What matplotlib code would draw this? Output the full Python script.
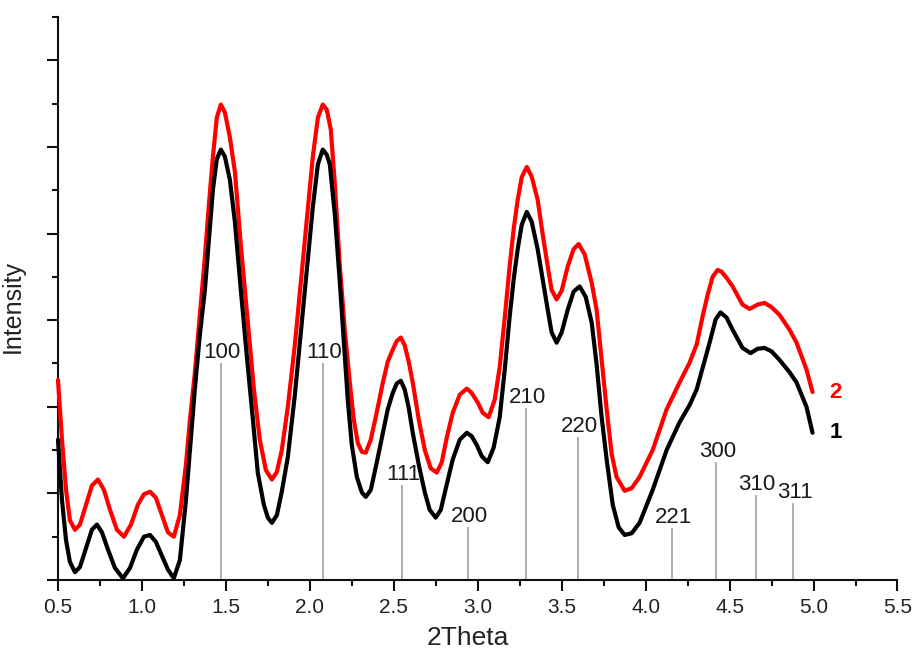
import matplotlib
matplotlib.use("Agg")
import matplotlib.pyplot as plt
from matplotlib.ticker import MultipleLocator, NullFormatter

plt.rcParams['font.family'] = ['Liberation Sans', 'DejaVu Sans']

# ---- data ----
x1 = [0.500,0.524,0.548,0.571,0.601,0.631,0.667,0.702,0.732,0.762,0.798,0.839,0.887,0.929,0.970,1.012,1.048,1.083,1.119,1.155,
      1.190,1.226,1.262,1.286,1.315,1.345,1.375,1.399,1.423,1.446,1.470,1.494,1.524,1.554,1.589,1.625,1.661,1.690,1.726,1.750,
      1.774,1.804,1.833,1.869,1.911,1.952,1.988,2.018,2.048,2.077,2.101,2.119,2.149,2.179,2.202,2.226,2.250,2.280,2.310,2.333,
      2.363,2.399,2.435,2.464,2.494,2.518,2.542,2.565,2.589,2.613,2.649,2.685,2.714,2.750,2.780,2.815,2.851,2.893,2.935,2.964,
      2.994,3.024,3.060,3.095,3.131,3.161,3.190,3.214,3.238,3.262,3.292,3.321,3.357,3.387,3.417,3.440,3.470,3.500,3.536,3.571,
      3.607,3.643,3.679,3.708,3.738,3.768,3.804,3.839,3.875,3.917,3.964,4.042,4.125,4.202,4.262,4.304,4.345,4.381,4.417,4.446,
      4.482,4.518,4.577,4.625,4.667,4.708,4.750,4.798,4.857,4.899,4.958,4.994]
y1 = [1.62,0.92,0.46,0.21,0.09,0.15,0.37,0.58,0.64,0.55,0.35,0.14,0.02,0.14,0.35,0.50,0.52,0.44,0.28,0.12,
      0.02,0.23,0.92,1.50,2.20,2.83,3.35,3.93,4.51,4.86,4.97,4.89,4.62,4.13,3.35,2.58,1.85,1.24,0.87,0.72,
      0.66,0.75,1.02,1.42,2.14,2.97,3.70,4.31,4.80,4.97,4.91,4.80,4.22,3.43,2.77,2.08,1.56,1.19,1.01,0.96,
      1.04,1.36,1.70,1.97,2.16,2.27,2.30,2.20,1.99,1.70,1.33,1.01,0.81,0.72,0.81,1.10,1.39,1.62,1.70,1.66,
      1.56,1.43,1.36,1.53,1.88,2.43,3.04,3.47,3.82,4.10,4.25,4.14,3.82,3.47,3.12,2.86,2.74,2.86,3.12,3.33,
      3.39,3.27,2.97,2.49,1.88,1.39,0.87,0.61,0.52,0.54,0.66,1.04,1.50,1.82,2.02,2.20,2.49,2.74,3.01,3.09,
      3.03,2.89,2.68,2.62,2.67,2.68,2.64,2.54,2.40,2.28,2.00,1.70]

x2 = [0.500,0.524,0.548,0.571,0.601,0.631,0.667,0.702,0.738,0.774,0.810,0.851,0.893,0.935,0.976,1.012,1.048,1.083,1.119,1.155,
      1.190,1.226,1.262,1.286,1.315,1.345,1.375,1.399,1.423,1.446,1.470,1.494,1.524,1.554,1.589,1.631,1.667,1.702,1.738,1.774,
      1.804,1.833,1.869,1.911,1.952,1.988,2.018,2.048,2.077,2.101,2.125,2.149,2.179,2.208,2.238,2.262,2.286,2.310,2.333,2.363,
      2.399,2.435,2.464,2.494,2.518,2.542,2.565,2.589,2.613,2.649,2.685,2.720,2.756,2.786,2.815,2.851,2.893,2.935,2.964,3.000,
      3.030,3.065,3.101,3.131,3.161,3.190,3.214,3.238,3.262,3.292,3.321,3.357,3.387,3.417,3.440,3.470,3.500,3.536,3.571,3.601,
      3.637,3.679,3.708,3.738,3.768,3.798,3.827,3.875,3.917,3.964,4.042,4.125,4.202,4.262,4.304,4.339,4.369,4.399,4.429,4.452,
      4.482,4.518,4.577,4.619,4.667,4.708,4.750,4.798,4.857,4.899,4.958,4.994]
y2 = [2.31,1.62,1.04,0.69,0.58,0.64,0.87,1.09,1.16,1.04,0.81,0.58,0.50,0.64,0.87,0.99,1.02,0.95,0.75,0.55,
      0.50,0.75,1.33,1.85,2.39,3.06,3.73,4.34,4.89,5.34,5.49,5.40,5.11,4.71,3.87,2.97,2.20,1.62,1.27,1.16,
      1.25,1.50,2.00,2.72,3.55,4.28,4.89,5.34,5.49,5.43,5.20,4.57,3.62,2.89,2.28,1.85,1.58,1.48,1.47,1.62,
      1.94,2.28,2.52,2.66,2.76,2.80,2.71,2.52,2.28,1.85,1.50,1.29,1.24,1.36,1.64,1.93,2.14,2.21,2.16,2.05,
      1.93,1.88,2.08,2.46,3.03,3.62,4.05,4.39,4.65,4.77,4.66,4.39,3.99,3.62,3.35,3.24,3.34,3.62,3.82,3.88,
      3.76,3.43,3.12,2.54,1.97,1.45,1.19,1.03,1.06,1.19,1.50,1.97,2.28,2.51,2.72,3.04,3.29,3.50,3.58,3.56,
      3.49,3.39,3.18,3.13,3.18,3.20,3.15,3.06,2.89,2.74,2.43,2.17]

peak_labels = ['100', '110', '111', '200', '210', '220', '221', '300', '310', '311']
peak_pos = [1.47, 2.077, 2.548, 2.94, 3.29, 3.60, 4.16, 4.42, 4.655, 4.88]
peak_height = [2.51, 2.51, 1.10, 0.61, 1.99, 1.65, 0.60, 1.36, 0.98, 0.89]

series_labels = ['1', '2']

# ---- figure ----
fig = plt.figure(figsize=(9.13, 6.5), dpi=100)
ax = fig.add_axes([0.0635, 0.1077, 0.9195, 0.866])

ax.vlines(peak_pos, 0, peak_height, colors='#9a9a9a', linewidth=1.1, zorder=1)
for lab, xp, h in zip(peak_labels, peak_pos, peak_height):
    ax.annotate(lab, (xp, h), xytext=(1, 3.5), textcoords='offset points',
                ha='center', va='baseline', fontsize=16, color='#1a1a1a', zorder=2)

ax.plot(x2, y2, color='#ff0000', linewidth=3.0, solid_joinstyle='round',
        solid_capstyle='round', clip_on=False, zorder=3)
ax.plot(x1, y1, color='black', linewidth=3.0, solid_joinstyle='round',
        solid_capstyle='round', clip_on=False, zorder=4)

ax.annotate(series_labels[1], (x2[-1], y2[-1]), xytext=(12, 0), textcoords='offset points',
            ha='left', va='center', fontsize=16, fontweight='bold', color='#ff0000')
ax.annotate(series_labels[0], (x1[-1], y1[-1]), xytext=(12, 0), textcoords='offset points',
            ha='left', va='center', fontsize=16, fontweight='bold', color='black')

ax.set_xlim(0.5, 5.5)
ax.set_ylim(0, 6.5)
ax.xaxis.set_major_locator(MultipleLocator(0.5))
ax.xaxis.set_minor_locator(MultipleLocator(0.25))
ax.yaxis.set_major_locator(MultipleLocator(1.0))
ax.yaxis.set_minor_locator(MultipleLocator(0.5))
ax.yaxis.set_major_formatter(NullFormatter())
ax.xaxis.set_major_formatter(matplotlib.ticker.FormatStrFormatter('%.1f'))

for s in ['top', 'right']:
    ax.spines[s].set_visible(False)
for s in ['left', 'bottom']:
    ax.spines[s].set_linewidth(1.5)
    ax.spines[s].set_color('#111111')

ax.tick_params(which='major', direction='out', length=8, width=1.5, color='#111111',
               labelsize=15, labelcolor='#222222', pad=5)
ax.tick_params(which='minor', direction='out', length=4, width=1.5, color='#111111')

ax.set_xlabel('2Theta', fontsize=19, color='#222222')
ax.xaxis.set_label_coords(0.488, -0.082)
ax.set_ylabel('Intensity', fontsize=18, color='#222222')
ax.yaxis.set_label_coords(-0.040, 0.485)

fig.savefig('out.png', dpi=100)
